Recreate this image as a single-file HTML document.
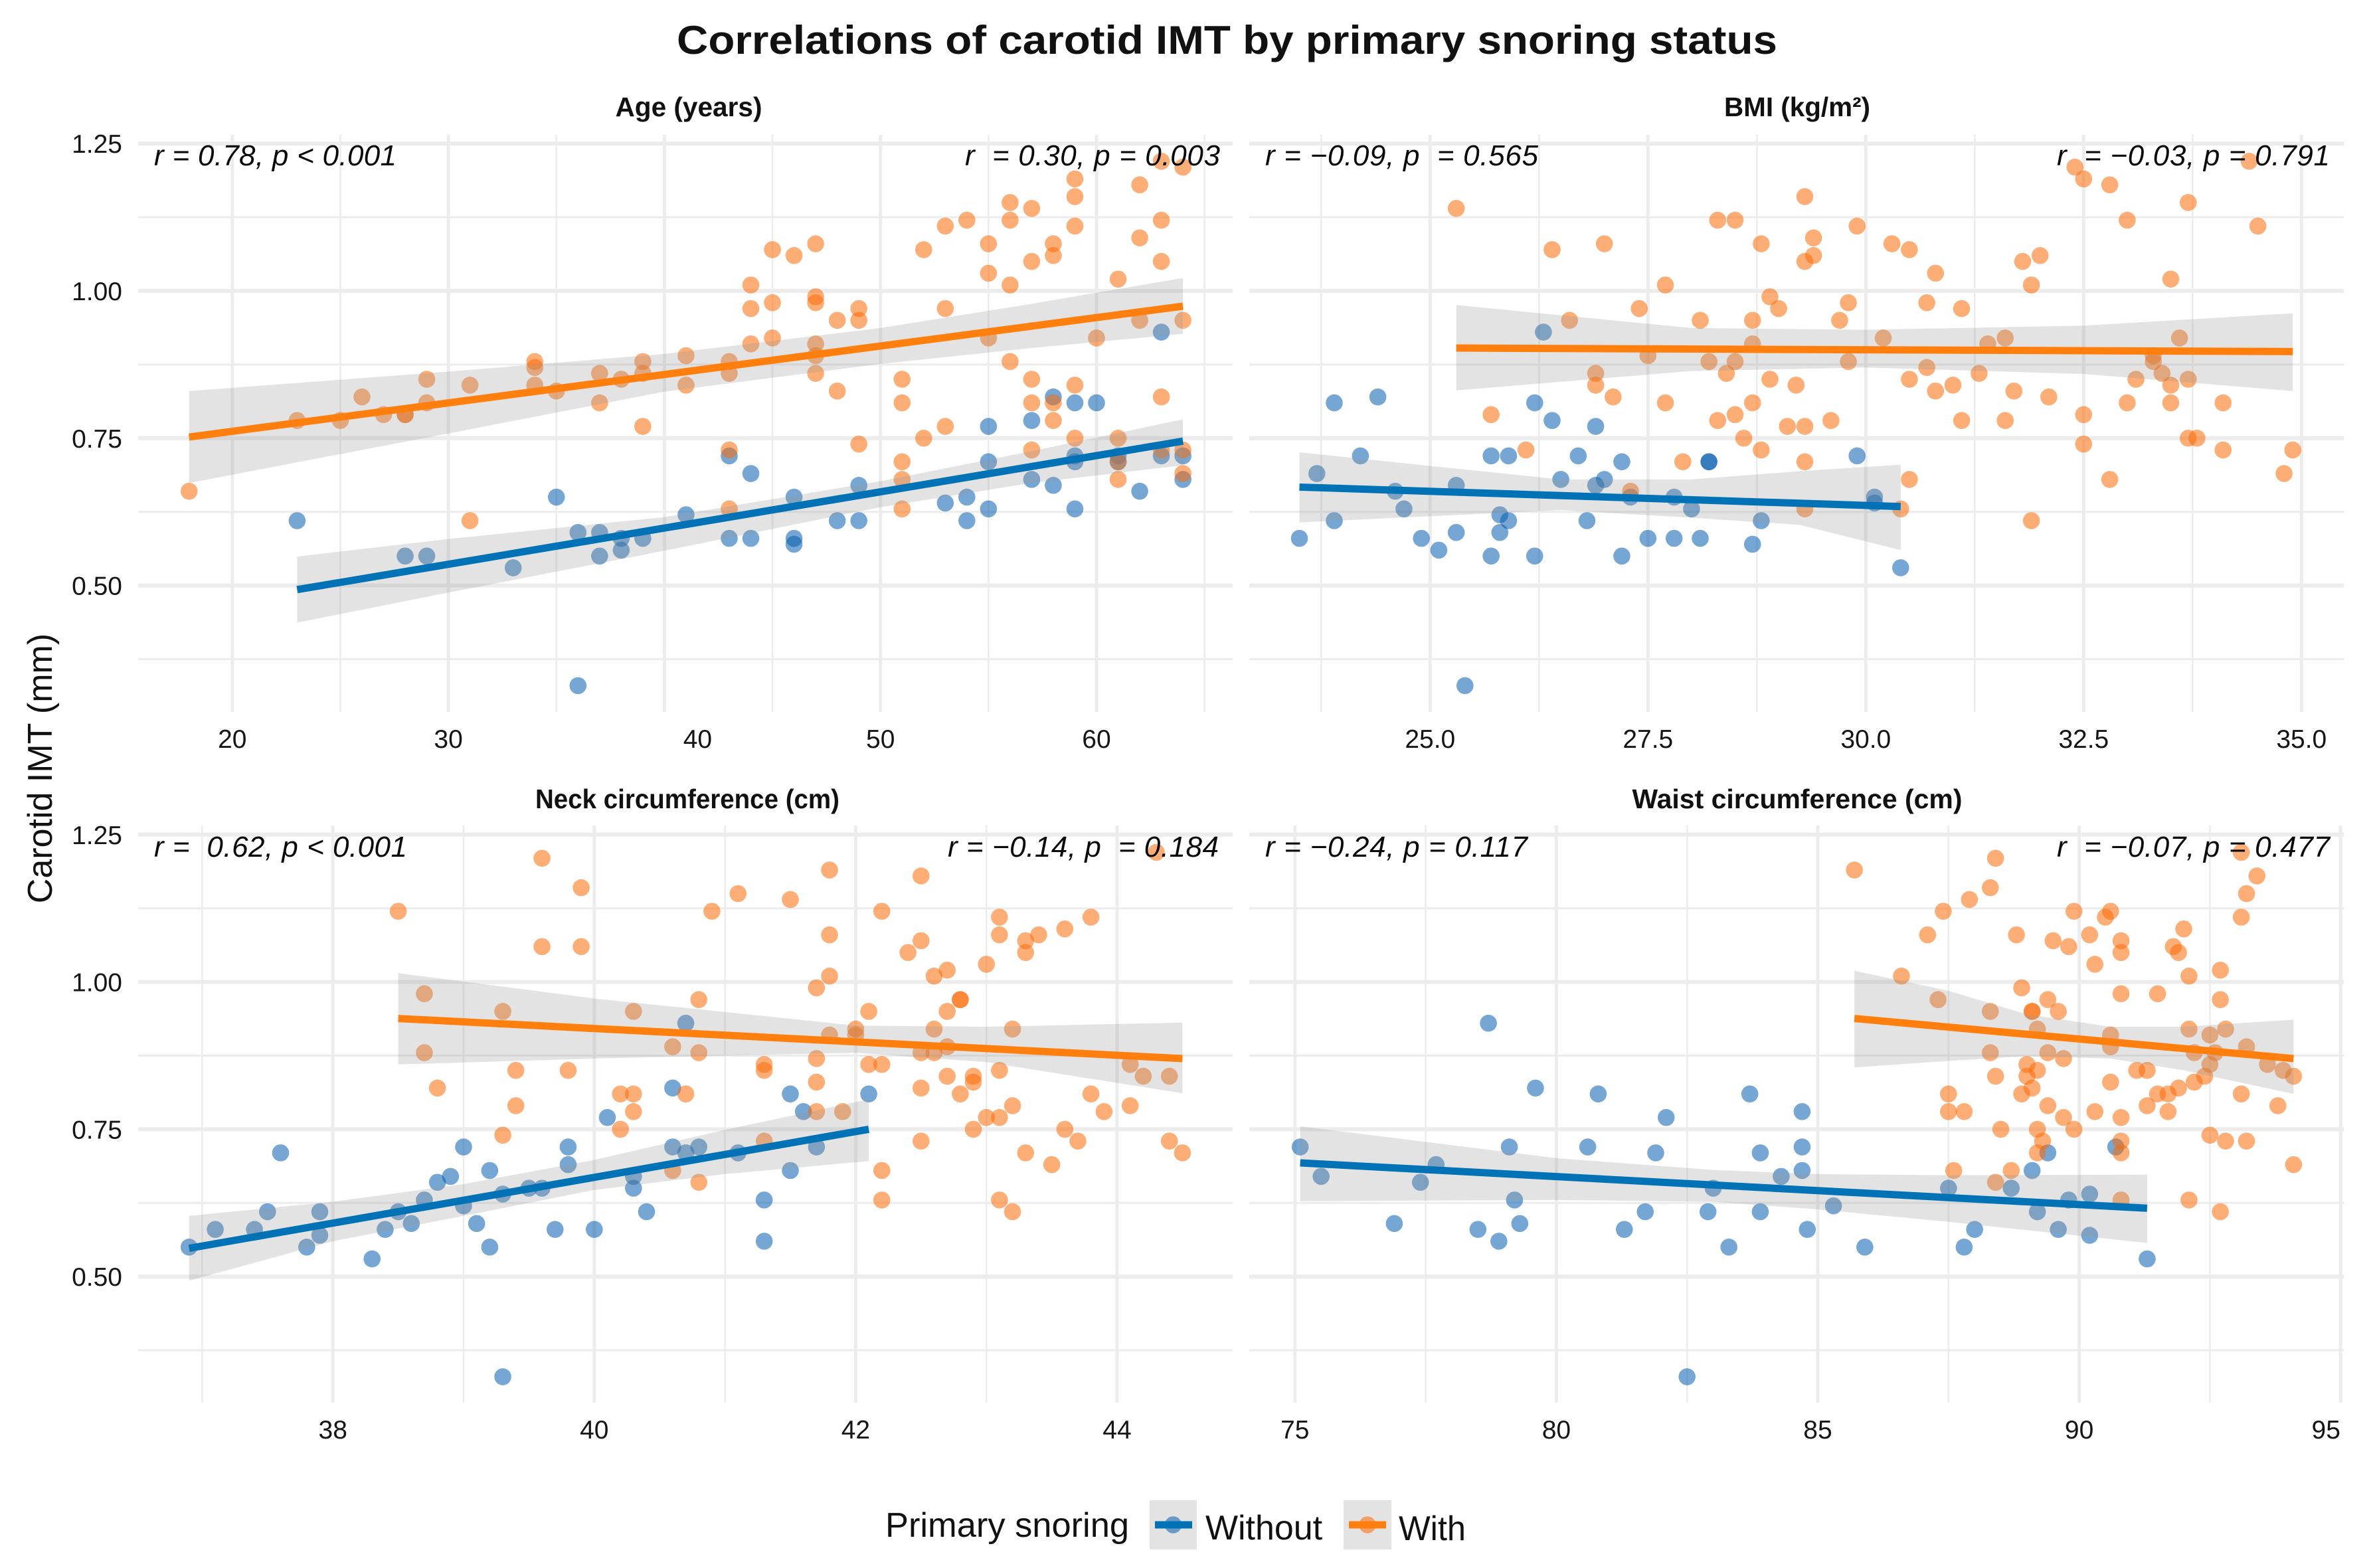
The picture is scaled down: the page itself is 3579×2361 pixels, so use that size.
<!DOCTYPE html>
<html lang="en">
<head>
<meta charset="utf-8">
<title>Correlations of carotid IMT by primary snoring status</title>
<style>
html,body{margin:0;padding:0;background:#fff;}
svg{display:block;font-family:"Liberation Sans",Arial,sans-serif;}
.strip{font-size:41px;font-weight:bold;text-anchor:middle;fill:#111;}
.note{font-size:44px;font-style:italic;fill:#0a0a0a;white-space:pre;}
.tick{font-size:39px;fill:#151515;}
</style>
</head>
<body>
<svg id="chart" width="3579" height="2361" viewBox="0 0 3579 2361" xmlns="http://www.w3.org/2000/svg">
  <rect x="0" y="0" width="3579" height="2361" fill="#ffffff"/>
  <text x="1019" y="81" font-size="60" font-weight="bold" fill="#111" textLength="1657" lengthAdjust="spacingAndGlyphs">Correlations of carotid IMT by primary snoring status</text>
  <text transform="translate(78,1157) rotate(-90)" font-size="52" text-anchor="middle" fill="#111">Carotid IMT (mm)</text>

  <g>
    <text class="strip" x="1037" y="175" textLength="221" lengthAdjust="spacingAndGlyphs">Age (years)</text>
    <g id="marks-age"></g>
    <text class="note" x="232" y="249" textLength="365">r = 0.78, p &lt; 0.001</text>
    <text class="note" x="1453" y="249" textLength="384">r  = 0.30, p = 0.003</text>
  </g>
  <g>
    <text class="strip" x="2706" y="175" textLength="220" lengthAdjust="spacingAndGlyphs">BMI (kg/m²)</text>
    <g id="marks-bmi"></g>
    <text class="note" x="1905" y="249" textLength="411">r = −0.09, p  = 0.565</text>
    <text class="note" x="3097" y="249" textLength="411">r  = −0.03, p = 0.791</text>
  </g>
  <g>
    <text class="strip" x="1035" y="1217" textLength="458" lengthAdjust="spacingAndGlyphs">Neck circumference (cm)</text>
    <g id="marks-neck"></g>
    <text class="note" x="232" y="1290" textLength="381">r =  0.62, p &lt; 0.001</text>
    <text class="note" x="1427" y="1290" textLength="408">r = −0.14, p  = 0.184</text>
  </g>
  <g>
    <text class="strip" x="2706" y="1217" textLength="497" lengthAdjust="spacingAndGlyphs">Waist circumference (cm)</text>
    <g id="marks-waist"></g>
    <text class="note" x="1905" y="1290" textLength="395">r = −0.24, p = 0.117</text>
    <text class="note" x="3097" y="1290" textLength="411">r  = −0.07, p = 0.477</text>
  </g>

  <g>
    <text x="1333" y="2314" font-size="52" fill="#111" textLength="367" lengthAdjust="spacingAndGlyphs">Primary snoring</text>
    <g>
      <rect x="1731" y="2259" width="71" height="74" fill="#e3e3e3"/>
      <circle cx="1766.500" cy="2296" r="12.800" fill="#055caf" fill-opacity="0.55"/>
      <line x1="1739" y1="2296" x2="1795" y2="2296" stroke="#0072b5" stroke-width="11"/>
      <text x="1815" y="2318" font-size="52" fill="#111" textLength="176" lengthAdjust="spacingAndGlyphs">Without</text>
    </g>
    <g>
      <rect x="2023" y="2259" width="72" height="74" fill="#e3e3e3"/>
      <circle cx="2059" cy="2296" r="12.800" fill="#fc6c08" fill-opacity="0.55"/>
      <line x1="2031" y1="2296" x2="2087" y2="2296" stroke="#ff7f0e" stroke-width="11"/>
      <text x="2106" y="2319" font-size="52" fill="#111" textLength="101" lengthAdjust="spacingAndGlyphs">With</text>
    </g>
  </g>
</svg>
<script>
// ---- Shared y axis ----
const imtTicks = [1.25, 1.00, 0.75, 0.50];
const imtMinorTicks = [1.125, 0.875, 0.625, 0.375];
const imtTickLabels = ["1.25", "1.00", "0.75", "0.50"];

// ---- Age panel ----
const ageTicks = [20, 30, 40, 50, 60];
const ageMinorTicks = [25, 35, 45, 55, 65];
const ageTickLabels = ["20", "30", "40", "50", "60"];
const ageWithX = [18,23,25,26,27,28,28,29,29,31,31,34,34,34,35,37,37,38,39,39,39,41,41,43,43,43,43,44,44,44,45,45,45,46,47,47,47,47,47,47,48,48,49,49,49,51,51,51,51,51,52,52,53,53,53,54,55,55,55,56,56,56,56,57,57,57,57,57,58,58,58,58,59,59,59,59,59,60,61,61,61,61,62,62,62,63,63,63,63,63,64,64,64,64];
const ageWithY = [.66,.78,.78,.82,.79,.79,.79,.85,.81,.84,.61,.88,.87,.84,.83,.86,.81,.85,.88,.86,.77,.89,.84,.88,.86,.73,.63,1.01,.97,.91,1.07,.98,.92,1.06,1.08,.99,.98,.91,.89,.86,.95,.83,.97,.95,.74,.85,.81,.71,.68,.63,1.07,.75,1.11,.97,.77,1.12,1.08,1.03,.92,1.15,1.12,1.01,.88,1.14,1.05,.85,.81,.73,1.08,1.06,.81,.78,1.19,1.16,1.11,.84,.75,.92,1.02,.75,.71,.68,1.18,1.09,.95,1.22,1.12,1.05,.82,.73,1.21,.95,.73,.69];
const ageWithoutX = [23,28,29,33,35,36,36,37,37,38,38,39,41,43,43,44,44,46,46,46,48,49,49,53,54,54,55,55,55,57,57,58,58,59,59,59,59,60,61,61,62,63,63,64,64];
const ageWithoutY = [.61,.55,.55,.53,.65,.59,.33,.59,.55,.58,.56,.58,.62,.72,.58,.69,.58,.65,.58,.57,.61,.67,.61,.64,.65,.61,.77,.71,.63,.78,.68,.82,.67,.81,.72,.71,.63,.81,.72,.71,.66,.93,.72,.72,.68];
const ageWithFitX = [18, 64];
const ageWithFitY = [.752, .974];
const ageWithoutFitX = [23, 64];
const ageWithoutFitY = [.493, .745];
const ageWithBandX = [18, 30, 40, 50, 57, 64];
const ageWithBandLow = [.674, .758, .829, .876, .903, .927];
const ageWithBandHigh = [.83, .863, .893, .937, .978, 1.022];
const ageWithoutBandX = [23, 30, 40, 50, 57, 64];
const ageWithoutBandLow = [.437, .488, .559, .633, .674, .704];
const ageWithoutBandHigh = [.549, .579, .616, .677, .728, .782];

// ---- BMI panel ----
const bmiTicks = [25, 27.5, 30, 32.5, 35];
const bmiMinorTicks = [23.75, 26.25, 28.75, 31.25, 33.75];
const bmiTickLabels = ["25.0", "27.5", "30.0", "32.5", "35.0"];
const bmiWithX = [25.3,26.4,27.0,28.3,28.5,28.8,29.3,29.3,27.7,27.4,28.9,29.0,26.6,28.1,28.7,28.7,27.5,28.2,28.5,28.4,26.9,26.9,28.9,29.2,27.1,27.7,28.7,28.5,28.3,25.7,29.1,29.3,28.6,28.8,26.1,27.9,29.3,27.3,29.3,29.4,29.4,29.9,29.8,29.7,30.3,30.5,30.8,30.7,31.1,30.2,29.8,30.7,30.5,31.0,30.8,31.3,31.4,31.6,31.7,32.1,31.6,31.1,29.6,32.5,32.5,32.8,30.5,30.4,31.9,31.8,32.0,31.9,32.4,32.5,32.8,33.0,33.7,34.4,34.5,33.5,33.6,33.3,33.3,33.4,33.5,33.7,33.1,33.0,33.5,34.1,33.7,33.8,34.1,34.9,34.8];
const bmiWithY = [1.14,1.07,1.08,1.12,1.12,1.08,1.16,1.05,1.01,.97,.99,.97,.95,.95,.95,.91,.89,.88,.88,.86,.86,.84,.85,.84,.82,.81,.81,.79,.78,.79,.77,.77,.75,.73,.73,.71,.71,.66,.63,1.09,1.06,1.11,.98,.95,1.08,1.07,1.03,.98,.97,.92,.88,.87,.85,.84,.83,.86,.91,.92,.83,.82,.78,.78,.78,.79,.74,.68,.68,.63,.61,1.05,1.06,1.01,1.21,1.19,1.18,1.12,1.15,1.22,1.11,1.02,.92,.88,.89,.86,.84,.85,.85,.81,.81,.81,.75,.75,.73,.73,.69];
const bmiWithoutX = [23.5,23.7,23.9,23.9,24.2,24.4,24.6,24.7,24.9,25.1,25.3,25.3,25.4,25.7,25.7,25.8,25.8,25.9,25.9,26.2,26.2,26.3,26.4,26.5,26.7,26.8,26.9,26.9,27.0,27.2,27.2,27.3,27.5,27.8,27.8,28.0,28.1,28.2,28.2,28.7,28.8,29.9,30.1,30.1,30.4];
const bmiWithoutY = [.58,.69,.81,.61,.72,.82,.66,.63,.58,.56,.67,.59,.33,.72,.55,.62,.59,.72,.61,.81,.55,.93,.78,.68,.72,.61,.77,.67,.68,.71,.55,.65,.58,.65,.58,.63,.58,.71,.71,.57,.61,.72,.65,.64,.53];
const bmiWithFitX = [25.3, 34.9];
const bmiWithFitY = [.903, .897];
const bmiWithoutFitX = [23.5, 30.4];
const bmiWithoutFitY = [.667, .634];
const bmiWithBandX = [25.3, 28, 30, 32.5, 34.9];
const bmiWithBandLow = [.831, .864, .87, .859, .83];
const bmiWithBandHigh = [.976, .937, .934, .941, .962];
const bmiWithoutBandX = [23.5, 26.5, 28, 29.24, 30.4];
const bmiWithoutBandLow = [.607, .628, .615, .603, .56];
const bmiWithoutBandHigh = [.726, .68, .68, .694, .705];

// ---- Neck panel ----
const neckTicks = [38, 40, 42, 44];
const neckMinorTicks = [37, 39, 41, 43];
const neckTickLabels = ["38", "40", "42", "44"];
const neckWithX = [38.5,38.7,38.7,38.8,39.3,39.3,39.4,39.4,39.6,39.6,39.8,39.9,39.9,40.2,40.2,40.3,40.3,40.3,40.6,40.6,40.7,40.8,40.8,40.8,40.9,41.1,41.3,41.3,41.3,41.5,41.7,41.7,41.7,41.7,41.8,41.8,41.8,41.8,41.9,42.0,42.0,42.1,42.1,42.2,42.2,42.2,42.2,42.4,42.5,42.5,42.5,42.5,42.5,42.6,42.6,42.6,42.7,42.7,42.7,42.7,42.8,42.8,42.8,42.9,42.9,42.9,43.0,43.0,43.1,43.1,43.1,43.1,43.1,43.2,43.2,43.2,43.3,43.3,43.3,43.4,43.5,43.6,43.6,43.7,43.8,43.8,43.9,44.1,44.1,44.2,44.3,44.4,44.4,44.5];
const neckWithY = [1.12,.98,.88,.82,.95,.74,.85,.79,1.21,1.06,.85,1.16,1.06,.81,.75,.95,.81,.78,.89,.68,.81,.97,.88,.66,1.12,1.15,.86,.85,.73,1.14,.99,.87,.83,.78,1.19,1.08,1.01,.91,.78,.92,.91,.95,.86,1.12,.86,.68,.63,1.05,1.18,1.07,.88,.82,.73,1.01,.92,.88,1.02,.95,.89,.84,.97,.97,.81,.84,.83,.75,1.03,.77,1.11,1.08,.85,.77,.63,.92,.79,.61,1.07,1.05,.71,1.08,.69,1.09,.75,.73,1.11,.81,.78,.86,.79,.84,1.22,.84,.73,.71];
const neckWithoutX = [36.9,37.1,37.4,37.5,37.6,37.8,37.9,37.9,38.3,38.4,38.5,38.6,38.7,38.8,38.9,39.0,39.0,39.1,39.2,39.2,39.3,39.3,39.5,39.6,39.7,39.8,39.8,40.0,40.1,40.3,40.3,40.4,40.6,40.6,40.7,40.7,40.8,41.1,41.3,41.3,41.5,41.5,41.6,41.7,42.1];
const neckWithoutY = [.55,.58,.58,.61,.71,.55,.61,.57,.53,.58,.61,.59,.63,.66,.67,.72,.62,.59,.68,.55,.64,.33,.65,.65,.58,.72,.69,.58,.77,.67,.65,.61,.82,.72,.93,.71,.72,.71,.63,.56,.81,.68,.78,.72,.81];
const neckWithFitX = [38.5, 44.5];
const neckWithFitY = [.938, .87];
const neckWithoutFitX = [36.9, 42.1];
const neckWithoutFitY = [.548, .75];
const neckWithBandX = [38.5, 40, 42, 43, 44.5];
const neckWithBandLow = [.86, .87, .88, .864, .811];
const neckWithBandHigh = [1.015, .972, .926, .924, .931];
const neckWithoutBandX = [36.9, 38, 39, 40, 41, 42.1];
const neckWithoutBandLow = [.493, .56, .603, .647, .674, .696];
const neckWithoutBandHigh = [.603, .627, .657, .698, .749, .801];

// ---- Waist panel ----
const waistTicks = [75, 80, 85, 90, 95];
const waistMinorTicks = [77.5, 82.5, 87.5, 92.5];
const waistTickLabels = ["75", "80", "85", "90", "95"];
const waistWithX = [85.7,86.6,87.1,87.3,87.4,87.5,87.5,87.6,87.8,87.9,88.3,88.3,88.3,88.4,88.4,88.4,88.5,88.7,88.8,88.9,88.9,89.0,89.0,89.1,89.1,89.1,89.2,89.2,89.2,89.2,89.3,89.4,89.4,89.4,89.5,89.6,89.7,89.7,89.8,89.9,89.9,90.2,90.3,90.3,90.5,90.6,90.6,90.6,90.6,90.8,90.8,90.8,90.8,90.8,90.8,90.8,91.1,91.3,91.3,91.5,91.5,91.7,91.7,91.8,91.9,91.9,92.0,92.1,92.1,92.1,92.2,92.2,92.4,92.5,92.5,92.5,92.6,92.7,92.7,92.7,92.8,92.8,93.1,93.1,93.1,93.2,93.2,93.2,93.4,93.6,93.8,93.9,94.1,94.1];
const waistWithY = [1.19,1.01,1.08,.97,1.12,.81,.78,.68,.78,1.14,1.16,.95,.88,1.21,.84,.66,.75,.68,1.08,.99,.81,.86,.84,.95,.95,.82,.92,.85,.75,.71,.73,.97,.88,.79,1.07,.95,.87,.77,1.06,1.12,.75,1.08,1.03,.78,1.11,1.12,.91,.89,.83,1.07,1.05,.98,.77,.73,.71,.63,.85,.85,.79,.98,.81,.81,.78,1.06,1.05,.82,1.09,1.01,.92,.63,.88,.83,.84,.91,.86,.74,.88,1.02,.97,.61,.92,.73,1.22,1.11,.81,1.15,.89,.73,1.18,.86,.79,.85,.84,.69];
const waistWithoutX = [75.1,75.5,76.9,77.4,77.7,78.5,78.7,78.9,79.1,79.2,79.3,79.6,80.6,80.8,81.3,81.7,81.9,82.1,82.5,82.9,83.0,83.3,83.7,83.9,83.9,84.3,84.7,84.7,84.7,84.8,85.3,85.9,87.5,87.8,88.0,88.7,89.1,89.2,89.4,89.6,89.8,90.2,90.2,90.7,91.3];
const waistWithoutY = [.72,.67,.59,.66,.69,.58,.93,.56,.72,.63,.59,.82,.72,.81,.58,.61,.71,.77,.33,.61,.65,.55,.81,.71,.61,.67,.78,.72,.68,.58,.62,.55,.65,.55,.58,.65,.68,.61,.71,.58,.63,.64,.57,.72,.53];
const waistWithFitX = [85.7, 94.1];
const waistWithFitY = [.938, .87];
const waistWithoutFitX = [75.1, 91.3];
const waistWithoutFitY = [.693, .616];
const waistWithBandX = [85.7, 87.5, 89, 90.6, 92, 94.1];
const waistWithBandLow = [.855, .866, .874, .87, .85, .81];
const waistWithBandHigh = [1.019, .985, .945, .924, .924, .936];
const waistWithoutBandX = [75.1, 80, 83, 85, 87.5, 91.3];
const waistWithoutBandLow = [.628, .63, .627, .614, .593, .557];
const waistWithoutBandHigh = [.755, .701, .681, .674, .672, .673];

// ---- Layout (pixels live here, not in the data) ----
const COLORS = {
  withPoint: "#fc6c08", withoutPoint: "#055caf",
  withLine: "#ff7f0e", withoutLine: "#0072b5",
  grid: "#ececec", band: "#999999"
};
const PLOT_H = 869;
const IMT_PX_PER_UNIT = 887.2;
const LAYOUT = {
  age:   {host: "marks-age",   left: 208,  right: 1856, top: 203,  yAt125: 216.2,  refX: 20, refPx: 349.8,  perUnit: 32.53, showY: true,  labelNudge: {"40": 50}},
  bmi:   {host: "marks-bmi",   left: 1881, right: 3529, top: 203,  yAt125: 216.2,  refX: 25, refPx: 2153.3, perUnit: 131.2, showY: false, labelNudge: {}},
  neck:  {host: "marks-neck",  left: 208,  right: 1856, top: 1243, yAt125: 1256.8, refX: 38, refPx: 501.2,  perUnit: 196.8, showY: true,  labelNudge: {}},
  waist: {host: "marks-waist", left: 1881, right: 3529, top: 1243, yAt125: 1256.8, refX: 75, refPx: 1949.8, perUnit: 78.72, showY: false, labelNudge: {"95": -22}}
};
const SVGNS = "http://www.w3.org/2000/svg";

function mk(parent, tag, attrs) {
  const el = document.createElementNS(SVGNS, tag);
  for (const k in attrs) el.setAttribute(k, attrs[k]);
  parent.appendChild(el);
  return el;
}

function drawAxes(root, lay, xOf, yOf, ticks, minor, labels) {
  const bottom = lay.top + PLOT_H;
  imtMinorTicks.forEach(function (v) {
    const el = mk(root, "line", {x1: lay.left, x2: lay.right, y1: yOf(v), y2: yOf(v), stroke: COLORS.grid, "stroke-width": 3});
    
    
  });
  minor.forEach(function (v) {
    const el = mk(root, "line", {x1: xOf(v), x2: xOf(v), y1: lay.top, y2: bottom, stroke: COLORS.grid, "stroke-width": 2.6});
    
    
  });
  imtTicks.forEach(function (v, i) {
    const el = mk(root, "line", {x1: lay.left, x2: lay.right, y1: yOf(v), y2: yOf(v), stroke: COLORS.grid, "stroke-width": 6});
    
    
    if (lay.showY) {
      const t = mk(root, "text", {x: 184, y: yOf(v) + 14, "text-anchor": "end", "class": "tick"});
      t.textContent = imtTickLabels[i];
      
      
    }
  });
  ticks.forEach(function (v, i) {
    const el = mk(root, "line", {x1: xOf(v), x2: xOf(v), y1: lay.top, y2: bottom, stroke: COLORS.grid, "stroke-width": 5});
    
    
    const nudge = lay.labelNudge[labels[i]] || 0;
    const t = mk(root, "text", {x: xOf(v) + nudge, y: bottom + 54, "text-anchor": "middle", "class": "tick"});
    t.textContent = labels[i];
    
    
  });
}

function drawPoints(root, xs, ys, xOf, yOf, color, name) {
  xs.forEach(function (x, i) {
    const c = mk(root, "circle", {cx: xOf(x), cy: yOf(ys[i]), r: 12.8, fill: color, "fill-opacity": 0.55});
    
    
  });
}

function drawBand(root, xs, low, high, xOf, yOf, name) {
  const upper = xs.map(function (x, i) { return xOf(x) + "," + yOf(high[i]); });
  const lower = xs.map(function (x, i) { return xOf(x) + "," + yOf(low[i]); }).reverse();
  const p = mk(root, "polygon", {points: upper.concat(lower).join(" "), fill: COLORS.band, "fill-opacity": 0.27});
  
  
}

function drawFit(root, xs, ys, xOf, yOf, color, name) {
  const l = mk(root, "line", {x1: xOf(xs[0]), y1: yOf(ys[0]), x2: xOf(xs[1]), y2: yOf(ys[1]), stroke: color, "stroke-width": 11});
  
  
}

function drawPanel(lay, d) {
  const root = document.getElementById(lay.host);
  const xOf = function (x) { return lay.refPx + (x - lay.refX) * lay.perUnit; };
  const yOf = function (v) { return lay.yAt125 + (1.25 - v) * IMT_PX_PER_UNIT; };
  drawAxes(root, lay, xOf, yOf, d.ticks, d.minor, d.labels);
  drawPoints(root, d.woX, d.woY, xOf, yOf, COLORS.withoutPoint, "point-without-snoring");
  drawPoints(root, d.wX, d.wY, xOf, yOf, COLORS.withPoint, "point-with-snoring");
  drawBand(root, d.woBX, d.woBL, d.woBH, xOf, yOf, "confidence-band-without-snoring");
  drawBand(root, d.wBX, d.wBL, d.wBH, xOf, yOf, "confidence-band-with-snoring");
  drawFit(root, d.woFX, d.woFY, xOf, yOf, COLORS.withoutLine, "fit-line-without-snoring");
  drawFit(root, d.wFX, d.wFY, xOf, yOf, COLORS.withLine, "fit-line-with-snoring");
}

drawPanel(LAYOUT.age, {ticks: ageTicks, minor: ageMinorTicks, labels: ageTickLabels,
  wX: ageWithX, wY: ageWithY, woX: ageWithoutX, woY: ageWithoutY,
  wFX: ageWithFitX, wFY: ageWithFitY, woFX: ageWithoutFitX, woFY: ageWithoutFitY,
  wBX: ageWithBandX, wBL: ageWithBandLow, wBH: ageWithBandHigh,
  woBX: ageWithoutBandX, woBL: ageWithoutBandLow, woBH: ageWithoutBandHigh});
drawPanel(LAYOUT.bmi, {ticks: bmiTicks, minor: bmiMinorTicks, labels: bmiTickLabels,
  wX: bmiWithX, wY: bmiWithY, woX: bmiWithoutX, woY: bmiWithoutY,
  wFX: bmiWithFitX, wFY: bmiWithFitY, woFX: bmiWithoutFitX, woFY: bmiWithoutFitY,
  wBX: bmiWithBandX, wBL: bmiWithBandLow, wBH: bmiWithBandHigh,
  woBX: bmiWithoutBandX, woBL: bmiWithoutBandLow, woBH: bmiWithoutBandHigh});
drawPanel(LAYOUT.neck, {ticks: neckTicks, minor: neckMinorTicks, labels: neckTickLabels,
  wX: neckWithX, wY: neckWithY, woX: neckWithoutX, woY: neckWithoutY,
  wFX: neckWithFitX, wFY: neckWithFitY, woFX: neckWithoutFitX, woFY: neckWithoutFitY,
  wBX: neckWithBandX, wBL: neckWithBandLow, wBH: neckWithBandHigh,
  woBX: neckWithoutBandX, woBL: neckWithoutBandLow, woBH: neckWithoutBandHigh});
drawPanel(LAYOUT.waist, {ticks: waistTicks, minor: waistMinorTicks, labels: waistTickLabels,
  wX: waistWithX, wY: waistWithY, woX: waistWithoutX, woY: waistWithoutY,
  wFX: waistWithFitX, wFY: waistWithFitY, woFX: waistWithoutFitX, woFY: waistWithoutFitY,
  wBX: waistWithBandX, wBL: waistWithBandLow, wBH: waistWithBandHigh,
  woBX: waistWithoutBandX, woBL: waistWithoutBandLow, woBH: waistWithoutBandHigh});
</script>
</body>
</html>
